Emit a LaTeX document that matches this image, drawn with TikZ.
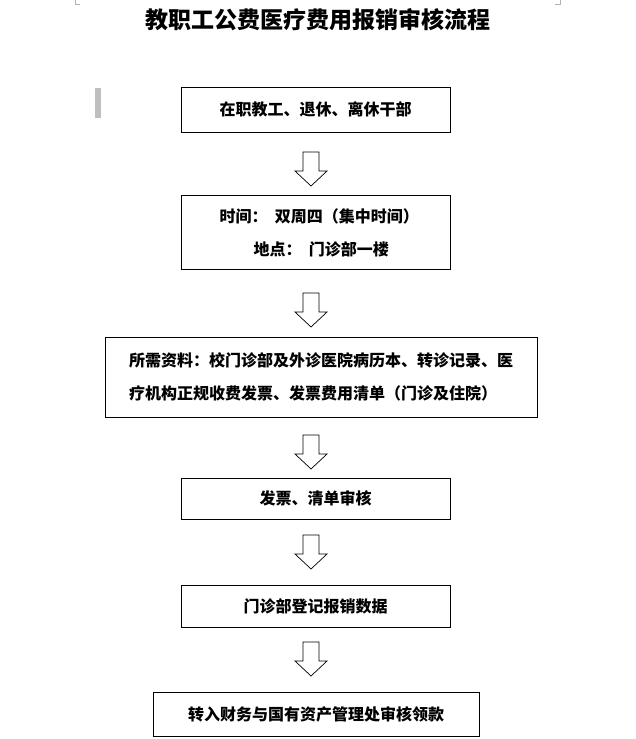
\documentclass[tikz,border=0pt]{standalone}
\usepackage{fontspec}
\setmainfont{Noto Sans CJK SC}
\begin{document}
\begin{tikzpicture}[
    x=1pt, y=-1pt,
    stepbox/.style={rectangle, draw, line width=0.8pt, font=\fontsize{16}{33}\selectfont\bfseries, align=left, inner sep=0pt},
    txt/.style={font=\fontsize{16}{18}\selectfont\bfseries, anchor=west},
    down/.pic={\draw[line width=0.7pt, fill=white] (-8,-17) -- (8,-17) -- (8,2) -- (16,2) -- (0,17) -- (-16,2) -- (-8,2) -- cycle;}
]
\useasboundingbox (0,0) rectangle (635,739);
% Title
\node[font=\fontsize{23}{26}\selectfont\bfseries] (title) at (318,20) {教职工公费医疗费用报销审核流程};
\fill[gray!50] (95,88) rectangle (101,118);
\draw[gray!60] (75,0) -- (75,4) -- (80,4) (560,0) -- (560,4) -- (555,4);

% Boxes
\node[stepbox, minimum width=269pt, minimum height=45pt] (b1) at (315.5,109.5) {在职教工、退休、离休干部};
\node[stepbox, minimum width=269pt, minimum height=74pt] (b2) at (315.5,232) {};
\node[txt] (b2a) at (216,216) {时间：\ \ 双周四（集中时间）};
\node[txt] (b2b) at (250,249) {地点：\ \ 门诊部一楼};
\node[stepbox, minimum width=432pt, minimum height=80pt] (b3) at (321,377) {所需资料：校门诊部及外诊医院病历本、转诊记录、医\\疗机构正规收费发票、发票费用清单（门诊及住院）};
\node[stepbox, minimum width=269pt, minimum height=41pt] (b4) at (315.5,498.5) {发票、清单审核};
\node[stepbox, minimum width=269pt, minimum height=42pt] (b5) at (315.5,606) {门诊部登记报销数据};
\node[stepbox, minimum width=326pt, minimum height=44pt] (b6) at (316,714) {转入财务与国有资产管理处审核领款};

% Arrows
\pic at (311,169) {down};
\pic at (311,310) {down};
\pic at (311,452) {down};
\pic at (311,552) {down};
\pic at (311,659) {down};
\end{tikzpicture}
\end{document}
